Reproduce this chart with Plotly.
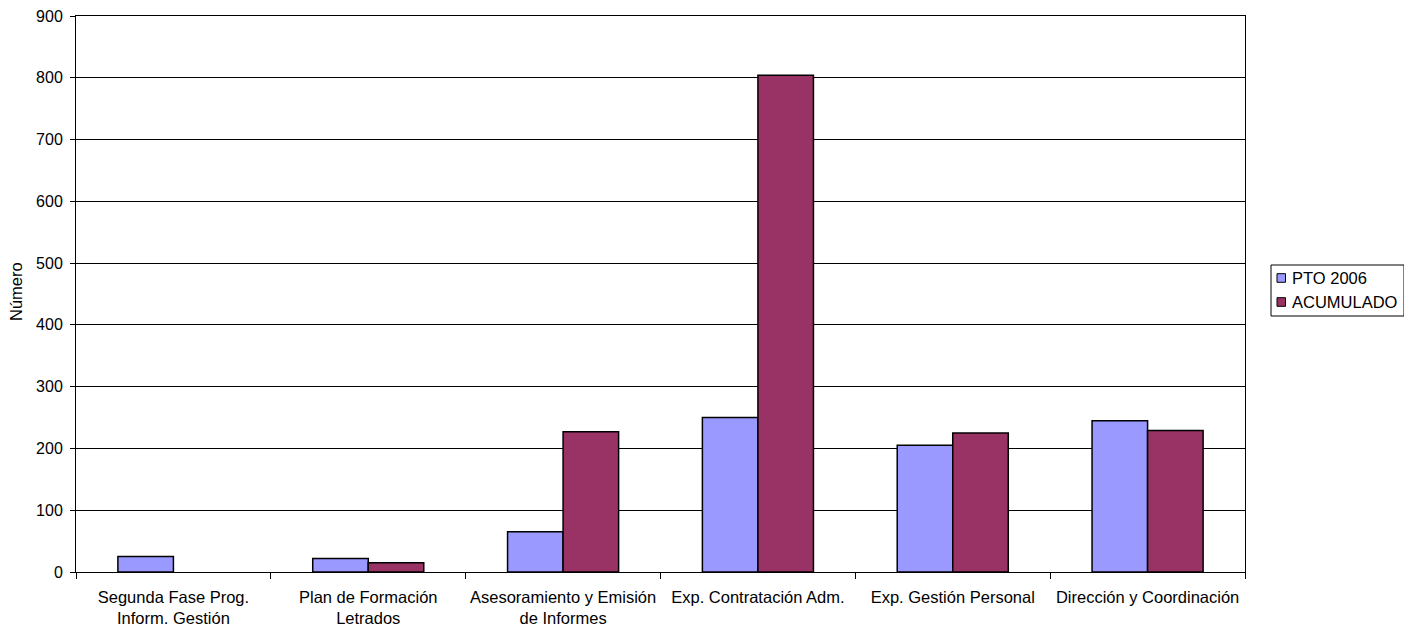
import plotly.graph_objects as go

categories = [
    "Segunda Fase Prog.<br>Inform. Gestión",
    "Plan de Formación<br>Letrados",
    "Asesoramiento y Emisión<br>de Informes",
    "Exp. Contratación Adm.",
    "Exp. Gestión Personal",
    "Dirección y Coordinación",
]
series_names = ["PTO 2006", "ACUMULADO"]
pto_2006 = [25, 22, 65, 250, 205, 245]
acumulado = [0, 15, 227, 804, 225, 229]
y_ticks = [0, 100, 200, 300, 400, 500, 600, 700, 800, 900]
y_title = "Número"
colors = ["#9999FF", "#993366"]

# page body has an 8px default margin; figure sized to fill the 1412x628 window
OFF = 8
W, H = 1412 - OFF, 628 - OFF
L, R, T, B = 76, 1245, 16, 572  # plot area in window pixels
FONT = "Liberation Sans, Arial, sans-serif"


def px_x(p):
    return (p - L) / (R - L)


def px_y(p):
    return (B - p) / (B - T)


fig = go.Figure()
for name, vals, col in zip(series_names, [pto_2006, acumulado], colors):
    fig.add_trace(go.Bar(
        x=categories, y=vals, name=name,
        marker=dict(color=col,
                    line=dict(color="#000000",
                              width=[1.5 if v > 0 else 0 for v in vals])),
    ))

fig.update_layout(
    width=W, height=H,
    margin=dict(l=L - OFF, r=W - (R - OFF), t=T - OFF, b=H - (B - OFF),
                pad=0, autoexpand=False),
    paper_bgcolor="white", plot_bgcolor="white",
    barmode="group", bargap=0.43, bargroupgap=0,
    font=dict(family=FONT, size=16.5, color="#000000"),
    showlegend=False,
)
fig.update_xaxes(
    type="category", showline=True, linecolor="#000000", linewidth=1,
    mirror=True, ticks="outside", tickson="boundaries", ticklen=6,
    tickcolor="#000000", showgrid=False, tickfont=dict(size=16.5),
    tickangle=0, automargin=False, ticklabelstandoff=10,
    ticklabeloverflow="allow",
)
fig.update_yaxes(
    range=[0, 900], tickvals=y_ticks, showline=True, linecolor="#000000",
    linewidth=1, mirror=True, ticks="outside", ticklen=5, tickcolor="#000000",
    showgrid=True, gridcolor="#000000", gridwidth=1, zeroline=False,
    tickfont=dict(size=16), automargin=False, ticklabelstandoff=4,
    ticklabeloverflow="allow",
)

# y-axis title placed at the reference position
fig.add_annotation(xref="paper", yref="paper", x=px_x(16), y=px_y(292),
                   text=y_title, textangle=-90, showarrow=False,
                   xanchor="center", yanchor="middle",
                   font=dict(family=FONT, size=16.5, color="#000000"))

# outer right border of the chart
fig.add_shape(type="line", xref="paper", yref="paper",
              x0=px_x(1410.5), x1=px_x(1410.5), y0=px_y(640), y1=px_y(-10),
              line=dict(color="#000000", width=2))

# legend (drawn manually to match the box layout)
fig.add_shape(type="rect", xref="paper", yref="paper",
              x0=px_x(1271), x1=px_x(1404), y0=px_y(316), y1=px_y(265),
              line=dict(color="#000000", width=1), fillcolor="white")
for i, (name, col) in enumerate(zip(series_names, colors)):
    cy = 278 + i * 24
    fig.add_shape(type="rect", xref="paper", yref="paper",
                  x0=px_x(1277), x1=px_x(1285.5), y0=px_y(cy + 4.3), y1=px_y(cy - 4.3),
                  line=dict(color="#000000", width=1), fillcolor=col)
    fig.add_annotation(xref="paper", yref="paper", x=px_x(1290), y=px_y(cy),
                       text=name, showarrow=False, xanchor="left", yanchor="middle",
                       font=dict(family=FONT, size=16.5, color="#000000"))

fig.write_html("out.html")
